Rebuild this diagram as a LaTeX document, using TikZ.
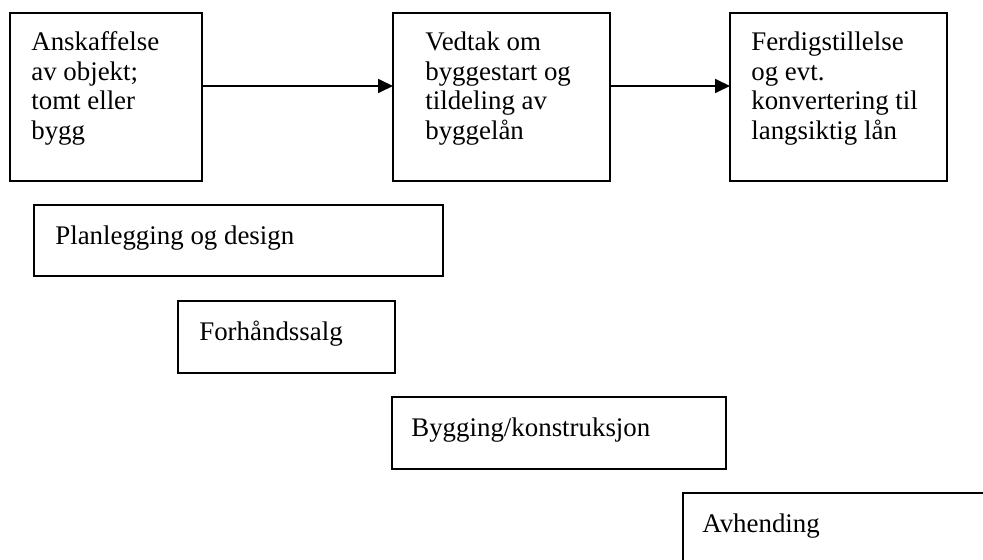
\documentclass[tikz,border=0pt]{standalone}
\usepackage{fontspec}
\setmainfont{Liberation Serif}
\usetikzlibrary{positioning,arrows.meta}

\begin{document}
\begin{tikzpicture}[x=0.02cm, y=-0.02cm,
  stage/.style={draw, line width=1pt, anchor=north west, inner sep=0pt,
                outer sep=0pt, minimum height=1.44cm},
  txt/.style={anchor=north west, align=left, inner sep=0pt,
              xshift=0.42cm, yshift=-0.37cm,
              font=\fontsize{15.3pt}{16.8pt}\selectfont,
              execute at begin node=\strut},
  arr/.style={-{Triangle[length=0.3cm, width=0.28cm]}, line width=1pt}
]
  \useasboundingbox (0,0) rectangle (983,559);
  % top row
  \node[stage, minimum width=3.84cm, minimum height=3.36cm,
        label={[txt]north west:{Anskaffelse\\av objekt;\\tomt eller\\bygg}}] (anskaffelse) at (10,13) {};
  \node[stage, minimum width=4.34cm, minimum height=3.36cm,
        label={[txt, xshift=0.22cm]north west:{Vedtak om\\byggestart og\\tildeling av\\byggelån}}] (vedtak) at (393,13) {};
  \node[stage, minimum width=4.34cm, minimum height=3.36cm,
        label={[txt]north west:{Ferdigstillelse\\og evt.\\konvertering til\\langsiktig lån}}] (ferdig) at (730,13) {};
  \draw[arr] ([yshift=0.22cm]anskaffelse.east) -- ([yshift=0.22cm]vedtak.west);
  \draw[arr] ([yshift=0.22cm]vedtak.east) -- ([yshift=0.22cm]ferdig.west);
  % phases
  \node[stage, minimum width=8.18cm, minimum height=1.42cm,
        label={[txt]north west:Planlegging og design}] (planlegging) at (34,205) {};
  \node[stage, minimum width=4.34cm,
        label={[txt]north west:Forhåndssalg}] (forhandssalg) at (178,301) {};
  \node[stage, minimum width=6.68cm,
        label={[txt, xshift=-0.04cm]north west:Bygging/konstruksjon}] (bygging) at (392,397) {};
  \node[stage, minimum width=6.68cm,
        label={[txt, xshift=-0.04cm]north west:Avhending}] (avhending) at (683,493) {};
\end{tikzpicture}
\end{document}
